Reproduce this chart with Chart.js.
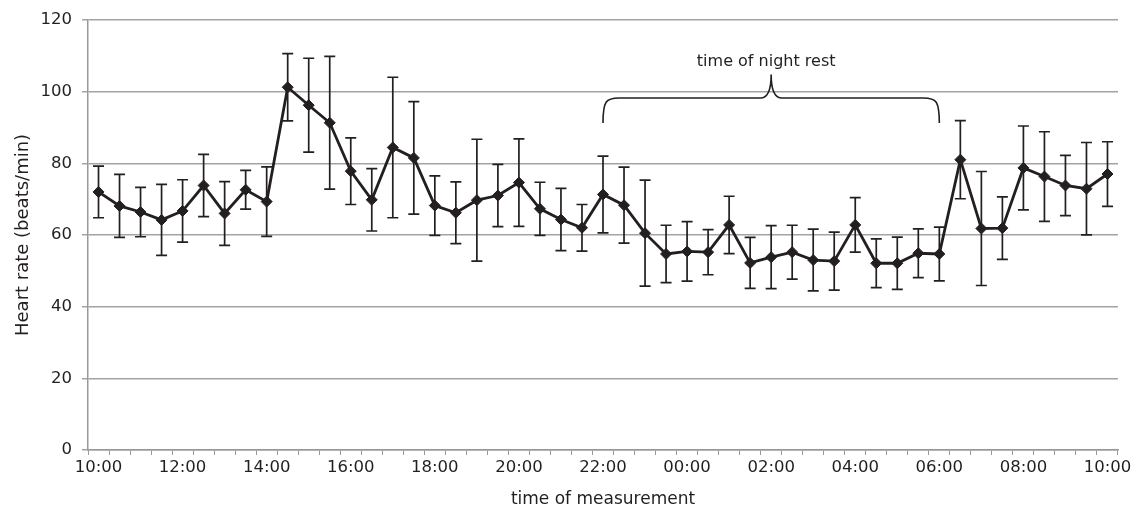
<!DOCTYPE html>
<html>
<head>
<meta charset="utf-8">
<script src="https://cdn.jsdelivr.net/npm/chart.js@4.4.1/dist/chart.umd.min.js"></script>
<style>
  body { margin: 0; background: #fff; }
</style>
</head>
<body>
<canvas id="myChart" width="1137" height="517"></canvas>
<script>
// data
const times = [
  '10:00','10:30','11:00','11:30','12:00','12:30','13:00','13:30','14:00','14:30',
  '15:00','15:30','16:00','16:30','17:00','17:30','18:00','18:30','19:00','19:30',
  '20:00','20:30','21:00','21:30','22:00','22:30','23:00','23:30','00:00','00:30',
  '01:00','01:30','02:00','02:30','03:00','03:30','04:00','04:30','05:00','05:30',
  '06:00','06:30','07:00','07:30','08:00','08:30','09:00','09:30','10:00'
];
const heartRate = [
  72.0, 68.1, 66.4, 64.2, 66.7, 73.8, 66.0, 72.6, 69.3, 101.2,
  96.2, 91.3, 77.8, 69.8, 84.4, 81.5, 68.2, 66.2, 69.7, 71.0,
  74.6, 67.3, 64.3, 62.0, 71.3, 68.3, 60.5, 54.7, 55.4, 55.2,
  62.8, 52.2, 53.8, 55.2, 53.0, 52.7, 62.8, 52.1, 52.1, 54.9,
  54.7, 81.0, 61.8, 61.9, 78.7, 76.3, 73.8, 72.9, 77.0
];
const heartRateSD = [
  7.2, 8.8, 6.9, 9.9, 8.7, 8.7, 8.9, 5.4, 9.7, 9.4,
  13.1, 18.5, 9.3, 8.7, 19.6, 15.7, 8.3, 8.6, 17.0, 8.7,
  12.2, 7.4, 8.7, 6.5, 10.7, 10.6, 14.8, 8.0, 8.3, 6.3,
  8.0, 7.1, 8.8, 7.5, 8.6, 8.1, 7.6, 6.8, 7.3, 6.8,
  7.5, 10.9, 15.9, 8.7, 11.7, 12.5, 8.4, 12.9, 9.0
];
const yTicks = [0, 20, 40, 60, 80, 100, 120];

// night rest brace: from 22:00 to 06:00
const restLabel = 'time of night rest';
const restStart = 24;
const restEnd = 40;

const FONT = 'DejaVu Sans';
const INK = '#231f20';
const GRID = '#a3a3a3';

// error bars
const errorBars = {
  id: 'errorBars',
  beforeDatasetsDraw(chart) {
    const ctx = chart.ctx;
    const y = chart.scales.y;
    const meta = chart.getDatasetMeta(0);
    ctx.save();
    ctx.strokeStyle = INK;
    ctx.lineWidth = 1.7;
    meta.data.forEach((pt, i) => {
      const top = y.getPixelForValue(heartRate[i] + heartRateSD[i]);
      const bot = y.getPixelForValue(heartRate[i] - heartRateSD[i]);
      ctx.beginPath();
      ctx.moveTo(pt.x, top); ctx.lineTo(pt.x, bot);
      ctx.moveTo(pt.x - 5.5, top); ctx.lineTo(pt.x + 5.5, top);
      ctx.moveTo(pt.x - 5.5, bot); ctx.lineTo(pt.x + 5.5, bot);
      ctx.stroke();
    });
    ctx.restore();
  }
};

// curly brace + label
const restBrace = {
  id: 'restBrace',
  afterDatasetsDraw(chart) {
    const ctx = chart.ctx;
    const x = chart.scales.x;
    const y = chart.scales.y;
    const xL = x.getPixelForValue(restStart);
    const xR = x.getPixelForValue(restEnd);
    const xC = (xL + xR) / 2;
    const yTop = y.getPixelForValue(98.2);
    const yEnd = y.getPixelForValue(91.2);
    const yCusp = y.getPixelForValue(104.8);
    ctx.save();
    ctx.strokeStyle = INK;
    ctx.lineWidth = 1.6;
    ctx.beginPath();
    ctx.moveTo(xL, yEnd);
    ctx.bezierCurveTo(xL, yTop + 3, xL + 3, yTop, xL + 16, yTop);
    ctx.lineTo(xC - 10, yTop);
    ctx.quadraticCurveTo(xC, yTop - 1, xC, yCusp);
    ctx.quadraticCurveTo(xC, yTop - 1, xC + 10, yTop);
    ctx.lineTo(xR - 16, yTop);
    ctx.bezierCurveTo(xR - 3, yTop, xR, yTop + 3, xR, yEnd);
    ctx.stroke();
    ctx.fillStyle = INK;
    ctx.font = '16px "' + FONT + '"';
    ctx.textAlign = 'center';
    ctx.textBaseline = 'alphabetic';
    ctx.fillText(restLabel, xC - 5, yCusp - 8);
    ctx.restore();
  }
};

const data = {
  labels: times,
  datasets: [{
    label: 'Heart rate',
    data: heartRate,
    borderColor: INK,
    backgroundColor: INK,
    borderWidth: 2.8,
    pointStyle: 'rectRot',
    pointRadius: 5.5,
    pointBackgroundColor: INK,
    pointBorderColor: INK,
    pointBorderWidth: 1,
    tension: 0
  }]
};

const config = {
  type: 'line',
  data,
  options: {
    responsive: false,
    animation: false,
    layout: { padding: { top: 18, right: 19, left: 0, bottom: 0 } },
    plugins: {
      legend: { display: false },
      tooltip: { enabled: false }
    },
    scales: {
      x: {
        offset: true,
        grid: { offset: true, drawOnChartArea: false, tickLength: 5, color: '#999', lineWidth: 1 },
        border: { color: '#999', width: 1.5 },
        ticks: {
          autoSkip: false,
          maxRotation: 0,
          padding: 3,
          color: INK,
          font: { family: FONT, size: 16.5 },
          callback: (v, i) => (i % 4 === 0 ? times[i] : '')
        },
        title: {
          display: true,
          text: 'time of measurement',
          color: INK,
          font: { family: FONT, size: 17 },
          padding: { top: 0, bottom: 7 }
        },
        afterFit: (scale) => { scale.height = 67; }
      },
      y: {
        min: 0,
        max: 120,
        afterBuildTicks: (scale) => { scale.ticks = yTicks.map(v => ({ value: v })); },
        grid: { color: GRID, lineWidth: 1.5, tickLength: 6 },
        border: { color: '#999', width: 1.5 },
        ticks: {
          padding: 10,
          color: INK,
          font: { family: FONT, size: 16.5 }
        },
        title: {
          display: true,
          text: 'Heart rate (beats/min)',
          color: INK,
          font: { family: FONT, size: 18 },
          padding: { top: 13, bottom: 0 }
        },
        afterFit: (scale) => { scale.width = 88; }
      }
    }
  },
  plugins: [errorBars, restBrace]
};

const myChart = new Chart(document.getElementById('myChart'), config);
</script>
</body>
</html>
